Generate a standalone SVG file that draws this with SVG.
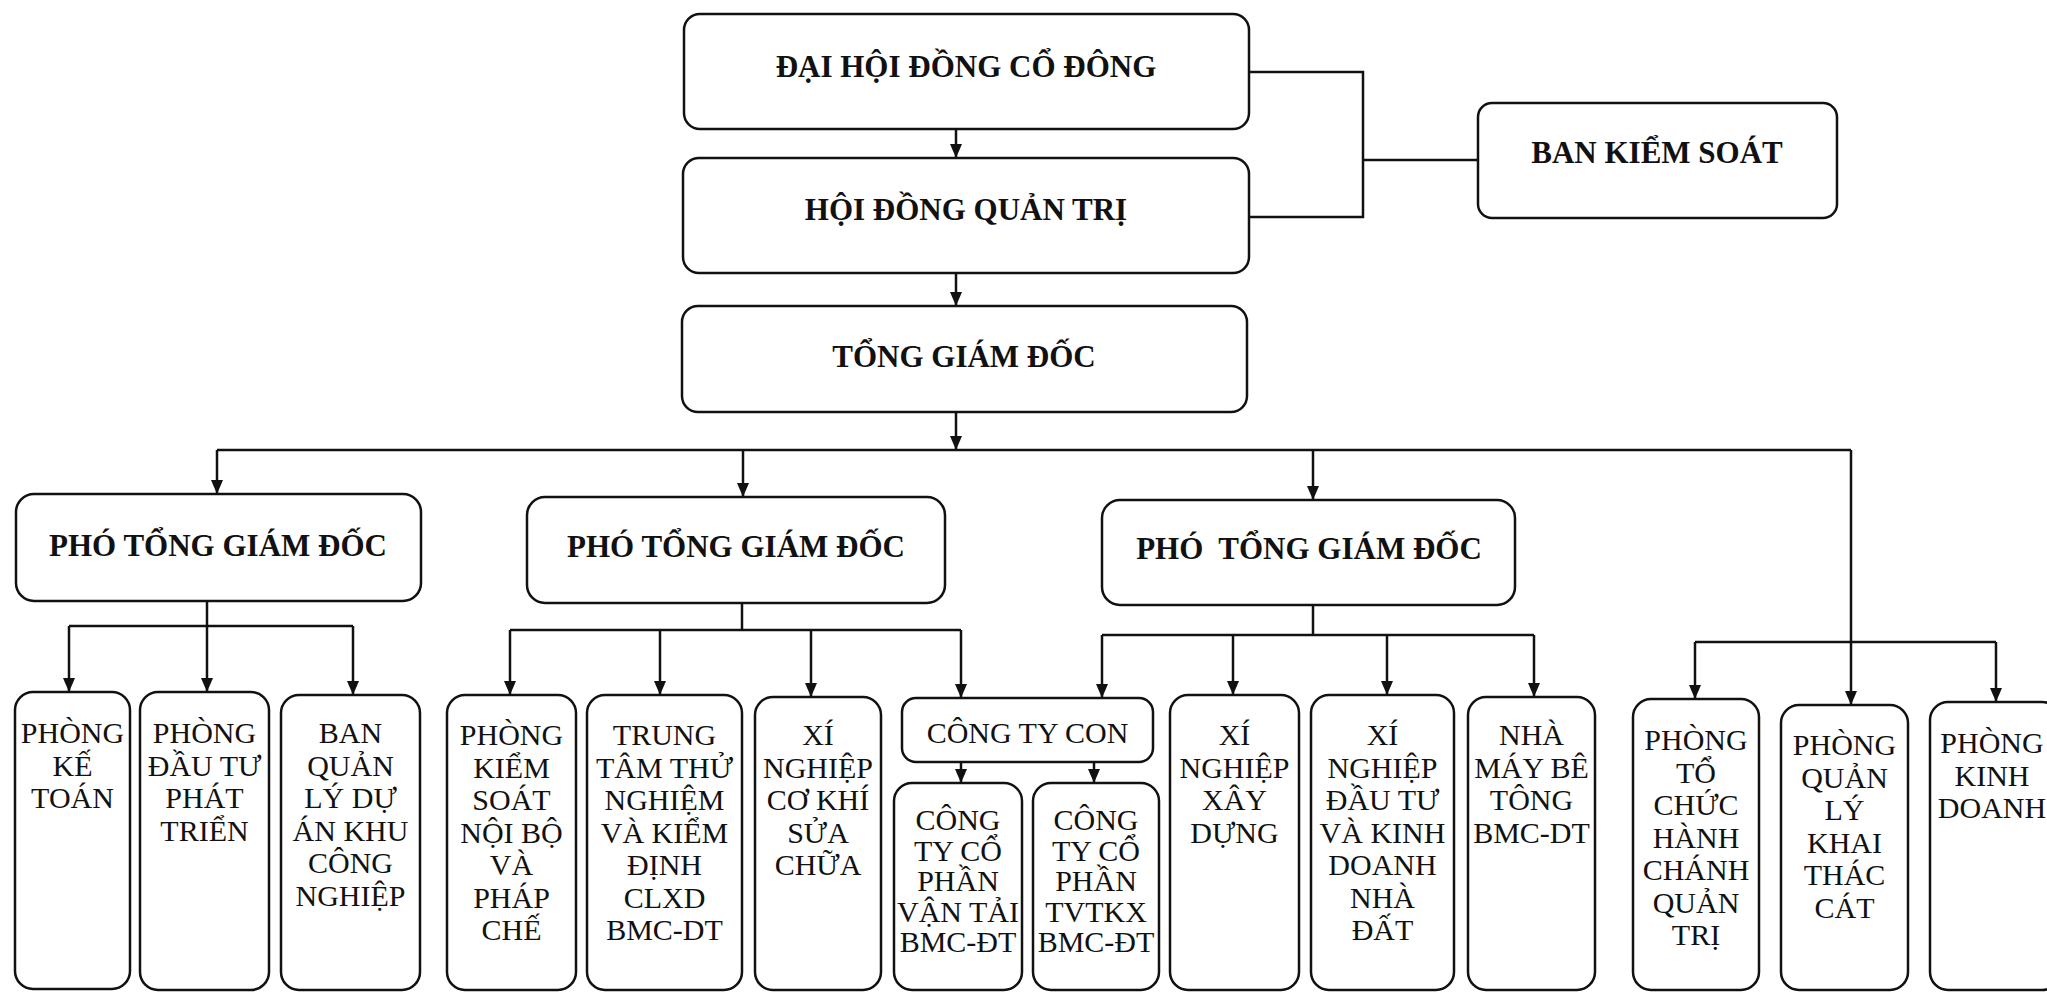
<svg xmlns="http://www.w3.org/2000/svg" width="2047" height="998" viewBox="0 0 2047 998">
<style>
.box{fill:#fff;stroke:#111;stroke-width:2.5}
.b{font-family:"Liberation Serif","Times New Roman",serif;font-weight:bold;font-size:31px;fill:#111;text-anchor:middle}
.r{font-family:"Liberation Serif","Times New Roman",serif;font-size:30px;fill:#111;text-anchor:middle}
.c{fill:none;stroke:#111;stroke-width:2.5}
</style>
<defs>
<marker id="ah" markerUnits="userSpaceOnUse" viewBox="0 0 14 12" markerWidth="14" markerHeight="12" refX="14" refY="6" orient="auto">
<path d="M0,0 L14,6 L0,12 z" fill="#111"/>
</marker>
</defs>
<rect width="2047" height="998" fill="#fff"/>
<g id="connectors">
<path class="c" d="M956,129 V158" marker-end="url(#ah)"/>
<path class="c" d="M956,273 V306" marker-end="url(#ah)"/>
<path class="c" d="M956,412 V450" marker-end="url(#ah)"/>
<path class="c" d="M1249,72 H1363 V217 H1249 M1363,160 H1478"/>
<path class="c" d="M217,450 H1851"/>
<path class="c" d="M217,450 V494" marker-end="url(#ah)"/>
<path class="c" d="M743,450 V497" marker-end="url(#ah)"/>
<path class="c" d="M1313,450 V500" marker-end="url(#ah)"/>
<path class="c" d="M1851,450 V705" marker-end="url(#ah)"/>
<path class="c" d="M207,601 V692" marker-end="url(#ah)"/>
<path class="c" d="M69,626 H353"/>
<path class="c" d="M69,626 V692" marker-end="url(#ah)"/>
<path class="c" d="M353,626 V695" marker-end="url(#ah)"/>
<path class="c" d="M742,603 V630 M510,630 H961"/>
<path class="c" d="M510,630 V695" marker-end="url(#ah)"/>
<path class="c" d="M660,630 V695" marker-end="url(#ah)"/>
<path class="c" d="M811,630 V697" marker-end="url(#ah)"/>
<path class="c" d="M961,630 V698" marker-end="url(#ah)"/>
<path class="c" d="M1313,605 V635 M1102,635 H1534"/>
<path class="c" d="M1102,635 V698" marker-end="url(#ah)"/>
<path class="c" d="M1233,635 V695" marker-end="url(#ah)"/>
<path class="c" d="M1387,635 V695" marker-end="url(#ah)"/>
<path class="c" d="M1534,635 V697" marker-end="url(#ah)"/>
<path class="c" d="M1695,642 H1996"/>
<path class="c" d="M1695,642 V699" marker-end="url(#ah)"/>
<path class="c" d="M1996,642 V702" marker-end="url(#ah)"/>
<path class="c" d="M961,762 V783" marker-end="url(#ah)"/>
<path class="c" d="M1094,762 V783" marker-end="url(#ah)"/>
</g>
<g id="dhdcd"><rect class="box" x="684" y="14" width="565" height="115" rx="16"/><text class="b" x="966" y="77">ĐẠI HỘI ĐỒNG CỔ ĐÔNG</text></g>
<g id="hdqt"><rect class="box" x="683" y="158" width="566" height="115" rx="16"/><text class="b" x="966" y="220">HỘI ĐỒNG QUẢN TRỊ</text></g>
<g id="tgd"><rect class="box" x="682" y="306" width="565" height="106" rx="16"/><text class="b" x="964" y="367">TỔNG GIÁM ĐỐC</text></g>
<g id="bks"><rect class="box" x="1478" y="103" width="359" height="115" rx="14"/><text class="b" x="1657" y="163">BAN KIỂM SOÁT</text></g>
<g id="ptgd1"><rect class="box" x="16" y="494" width="405" height="107" rx="18"/><text class="b" x="218" y="556">PHÓ TỔNG GIÁM ĐỐC</text></g>
<g id="ptgd2"><rect class="box" x="527" y="497" width="418" height="106" rx="18"/><text class="b" x="736" y="557">PHÓ TỔNG GIÁM ĐỐC</text></g>
<g id="ptgd3"><rect class="box" x="1102" y="500" width="413" height="105" rx="18"/><text class="b" x="1309" y="559" xml:space="preserve">PHÓ  TỔNG GIÁM ĐỐC</text></g>
<g id="ketoan"><rect class="box" x="15" y="692" width="115" height="297" rx="18"/><text class="r" x="72.5" y="743">PHÒNG<tspan x="72.5" dy="32.5">KẾ</tspan><tspan x="72.5" dy="32.5">TOÁN</tspan></text></g>
<g id="dautu"><rect class="box" x="140" y="692" width="129" height="298" rx="18"/><text class="r" x="204.5" y="743">PHÒNG<tspan x="204.5" dy="32.5">ĐẦU TƯ</tspan><tspan x="204.5" dy="32.5">PHÁT</tspan><tspan x="204.5" dy="32.5">TRIỂN</tspan></text></g>
<g id="banql"><rect class="box" x="281" y="695" width="139" height="295" rx="18"/><text class="r" x="350.5" y="743">BAN<tspan x="350.5" dy="32.5">QUẢN</tspan><tspan x="350.5" dy="32.5">LÝ DỰ</tspan><tspan x="350.5" dy="32.5">ÁN KHU</tspan><tspan x="350.5" dy="32.5">CÔNG</tspan><tspan x="350.5" dy="32.5">NGHIỆP</tspan></text></g>
<g id="kiemsoat"><rect class="box" x="447" y="695" width="129" height="295" rx="18"/><text class="r" x="511.5" y="745">PHÒNG<tspan x="511.5" dy="32.5">KIỂM</tspan><tspan x="511.5" dy="32.5">SOÁT</tspan><tspan x="511.5" dy="32.5">NỘI BỘ</tspan><tspan x="511.5" dy="32.5">VÀ</tspan><tspan x="511.5" dy="32.5">PHÁP</tspan><tspan x="511.5" dy="32.5">CHẾ</tspan></text></g>
<g id="trungtam"><rect class="box" x="587" y="695" width="155" height="295" rx="18"/><text class="r" x="664.5" y="745">TRUNG<tspan x="664.5" dy="32.5">TÂM THỬ</tspan><tspan x="664.5" dy="32.5">NGHIỆM</tspan><tspan x="664.5" dy="32.5">VÀ KIỂM</tspan><tspan x="664.5" dy="32.5">ĐỊNH</tspan><tspan x="664.5" dy="32.5">CLXD</tspan><tspan x="664.5" dy="32.5">BMC-DT</tspan></text></g>
<g id="cokhi"><rect class="box" x="755" y="697" width="126" height="293" rx="18"/><text class="r" x="818" y="745">XÍ<tspan x="818" dy="32.5">NGHIỆP</tspan><tspan x="818" dy="32.5">CƠ KHÍ</tspan><tspan x="818" dy="32.5">SỬA</tspan><tspan x="818" dy="32.5">CHỮA</tspan></text></g>
<g id="congtycon"><rect class="box" x="902" y="698" width="251" height="64" rx="14"/><text class="r" x="1027.5" y="743">CÔNG TY CON</text></g>
<g id="vantai"><rect class="box" x="894" y="783" width="128" height="207" rx="18"/><text class="r" x="958" y="830">CÔNG<tspan x="958" dy="30.5">TY CỔ</tspan><tspan x="958" dy="30.5">PHẦN</tspan><tspan x="958" dy="30.5">VẬN TẢI</tspan><tspan x="958" dy="30.5">BMC-ĐT</tspan></text></g>
<g id="tvtkx"><rect class="box" x="1033" y="783" width="126" height="207" rx="18"/><text class="r" x="1096" y="830">CÔNG<tspan x="1096" dy="30.5">TY CỔ</tspan><tspan x="1096" dy="30.5">PHẦN</tspan><tspan x="1096" dy="30.5">TVTKX</tspan><tspan x="1096" dy="30.5">BMC-ĐT</tspan></text></g>
<g id="xaydung"><rect class="box" x="1170" y="695" width="129" height="295" rx="18"/><text class="r" x="1234.5" y="745">XÍ<tspan x="1234.5" dy="32.5">NGHIỆP</tspan><tspan x="1234.5" dy="32.5">XÂY</tspan><tspan x="1234.5" dy="32.5">DỰNG</tspan></text></g>
<g id="dautukd"><rect class="box" x="1311" y="695" width="143" height="295" rx="18"/><text class="r" x="1382.5" y="745">XÍ<tspan x="1382.5" dy="32.5">NGHIỆP</tspan><tspan x="1382.5" dy="32.5">ĐẦU TƯ</tspan><tspan x="1382.5" dy="32.5">VÀ KINH</tspan><tspan x="1382.5" dy="32.5">DOANH</tspan><tspan x="1382.5" dy="32.5">NHÀ</tspan><tspan x="1382.5" dy="32.5">ĐẤT</tspan></text></g>
<g id="nhamay"><rect class="box" x="1468" y="697" width="127" height="293" rx="18"/><text class="r" x="1531.5" y="745">NHÀ<tspan x="1531.5" dy="32.5">MÁY BÊ</tspan><tspan x="1531.5" dy="32.5">TÔNG</tspan><tspan x="1531.5" dy="32.5">BMC-DT</tspan></text></g>
<g id="tochuc"><rect class="box" x="1633" y="699" width="126" height="291" rx="18"/><text class="r" x="1696" y="750">PHÒNG<tspan x="1696" dy="32.5">TỔ</tspan><tspan x="1696" dy="32.5">CHỨC</tspan><tspan x="1696" dy="32.5">HÀNH</tspan><tspan x="1696" dy="32.5">CHÁNH</tspan><tspan x="1696" dy="32.5">QUẢN</tspan><tspan x="1696" dy="32.5">TRỊ</tspan></text></g>
<g id="quanly"><rect class="box" x="1781" y="705" width="127" height="285" rx="18"/><text class="r" x="1844.5" y="755">PHÒNG<tspan x="1844.5" dy="32.5">QUẢN</tspan><tspan x="1844.5" dy="32.5">LÝ</tspan><tspan x="1844.5" dy="32.5">KHAI</tspan><tspan x="1844.5" dy="32.5">THÁC</tspan><tspan x="1844.5" dy="32.5">CÁT</tspan></text></g>
<g id="kinhdoanh"><rect class="box" x="1930" y="702" width="130" height="288" rx="18"/><text class="r" x="1992" y="753">PHÒNG<tspan x="1992" dy="32.5">KINH</tspan><tspan x="1992" dy="32.5">DOANH</tspan></text></g>
</svg>
